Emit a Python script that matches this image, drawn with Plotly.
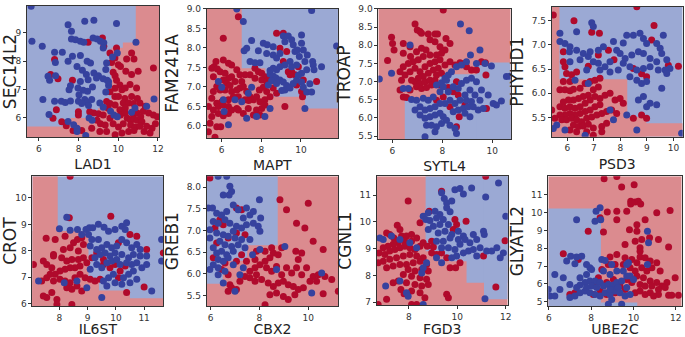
import plotly.graph_objects as go

# ---------------- data ----------------
RED_PT = "#b00a2c"
BLUE_PT = "#36429e"
RED_BG = "#db8b8f"
BLUE_BG = "#9ba9d4"

# Panel 1: LAD1 vs SEC14L2
p1_xlabel, p1_ylabel = "LAD1", "SEC14L2"
p1_xrange, p1_yrange = [5.4, 12.05], [5.33, 9.95]
p1_xticks, p1_yticks = [6, 8, 10, 12], [6, 7, 8, 9]
p1_blue_x = [5.61,5.65,6.17,6.79,7.18,7.47,7.64,7.64,7.85,8.09,8.26,8.31,8.77,9.91,10.89,8.73,8.93,9.1,9.27,9.24,7.69,8.09,8.43,8.6,7.47,6.83,6.46,6.54,6.84,7.92,8.19,8.39,8.77,9.0,8.09,8.48,8.9,7.59,7.52,7.97,8.23,8.45,8.7,9.24,9.44,9.51,9.37,8.02,6.2,6.79,7.13,7.33,7.59,8.31,8.43,8.5,8.66,9.07,9.24,7.99,8.16,6.51,7.47,7.75,7.92,8.53,8.68,9.61,9.78,9.95,9.41,9.71,9.95,9.37,9.51,10.67,10.84,11.43,11.8,8.36,7.92]
p1_blue_y = [9.94,8.71,8.53,8.32,8.32,9.29,9.06,8.79,8.76,8.71,8.67,9.41,9.45,9.33,8.67,8.82,8.79,8.71,8.65,8.47,8.18,8.2,8.0,7.94,8.0,7.96,7.47,7.33,7.49,7.82,7.68,7.53,7.59,7.49,7.29,7.35,7.41,7.14,7.0,7.06,6.98,6.94,7.09,7.38,7.33,7.15,6.92,6.82,6.65,6.59,6.59,6.55,6.6,6.65,6.56,6.44,6.65,6.53,6.38,6.59,6.51,6.12,5.88,5.76,5.64,6.0,5.92,6.24,6.11,6.04,7.94,8.15,8.29,7.71,7.28,6.2,6.35,6.41,6.67,5.38,5.52]
p1_red_x = [6.79,6.59,6.96,7.69,8.48,9.2,9.27,9.91,9.58,9.83,9.66,10.0,10.67,10.42,10.79,10.11,10.38,10.67,11.0,11.77,9.74,9.84,9.91,10.08,9.83,10.18,10.35,10.59,10.92,9.58,9.83,10.01,10.33,10.67,10.96,9.41,9.58,9.84,10.25,10.52,10.76,11.09,11.36,9.49,10.08,10.35,8.77,9.0,9.24,9.58,10.11,10.35,10.76,10.96,11.26,11.53,11.77,11.97,10.45,10.62,10.79,10.96,11.13,11.19,8.93,9.1,9.34,9.74,10.01,10.25,10.62,10.86,11.09,11.43,11.7,11.87,7.72,8.16,8.66,9.07,9.41,9.84,10.18,10.52,10.79,6.71,7.15,7.38,7.99,7.99,8.56,6.88,11.3,11.6]
p1_red_y = [8.06,7.53,7.38,7.33,8.67,8.82,8.53,8.47,8.29,8.12,7.96,7.88,8.29,8.08,8.08,7.82,7.65,7.53,7.65,7.76,7.61,7.49,7.33,7.16,7.05,7.0,7.06,7.18,7.06,6.93,6.76,6.76,6.69,6.76,6.69,6.58,6.51,6.46,6.53,6.53,6.51,6.53,6.41,6.34,6.29,6.35,6.18,6.15,6.11,5.99,6.11,6.18,6.11,6.18,6.24,6.18,6.11,6.04,5.99,5.92,5.96,5.92,6.04,5.87,5.92,5.8,5.75,5.8,5.68,5.8,5.75,5.68,5.71,5.71,5.64,5.8,5.56,5.56,5.64,5.52,5.52,5.41,5.47,5.52,5.56,5.99,5.87,5.73,6.22,6.11,6.22,6.29,5.52,5.47]
p1_base = "blue"
p1_regions = [[5.4,12.05,5.33,5.70],[7.6,12.05,5.33,6.0],[8.97,12.05,5.33,6.34],[9.65,12.05,5.33,8.48],[10.23,12.05,5.33,8.66],[10.88,12.05,5.33,9.95]]

# Panel 2: MAPT vs FAM241A
p2_xlabel, p2_ylabel = "MAPT", "FAM241A"
p2_xrange, p2_yrange = [5.24, 11.87], [5.69, 9.0]
p2_xticks, p2_yticks = [6, 8, 10], [6.0, 6.5, 7.0, 7.5, 8.0, 8.5, 9.0]
p2_blue_x = [6.76,7.09,10.54,11.8,7.51,7.26,7.13,8.1,8.3,8.6,7.85,7.43,7.68,7.93,8.27,8.6,8.77,8.94,9.11,9.36,9.19,9.53,9.61,9.7,9.82,10.12,10.03,10.03,9.92,10.2,10.32,10.59,10.62,11.04,10.66,10.29,10.03,9.78,9.53,9.45,9.19,8.94,8.77,8.6,8.44,8.44,8.6,8.74,8.52,8.35,8.77,8.94,9.11,9.28,9.19,9.03,9.45,9.61,9.78,9.87,10.03,10.12,10.29,10.54,10.45,10.2,7.51,7.34,7.01,6.67,7.26,7.76,8.18,8.44,6.34,5.83,6.08,6.0,6.12]
p2_blue_y = [9.0,8.68,8.96,8.05,8.19,7.99,7.93,8.12,8.08,8.03,7.93,7.65,7.62,7.62,7.86,7.82,7.74,7.86,8.31,8.31,8.16,8.21,8.08,7.91,7.95,7.95,8.12,8.33,7.78,7.65,7.82,7.65,7.56,7.52,7.44,7.44,7.35,7.56,7.52,7.65,7.56,7.52,7.44,7.48,7.42,7.33,7.28,7.23,7.16,7.05,7.09,7.18,7.13,7.04,6.92,6.91,6.97,7.09,7.18,7.3,7.13,6.99,6.87,6.87,7.08,6.45,6.99,6.84,6.62,6.67,6.2,6.24,6.24,6.45,6.03,7.14,6.67,6.99,6.37]
p2_red_x = [6.84,6.08,5.5,5.61,5.78,5.92,5.58,5.71,6.08,6.34,6.5,6.76,6.17,6.34,6.5,6.08,6.25,6.42,6.67,5.75,5.58,5.92,6.17,6.5,6.76,6.92,7.09,7.26,7.43,7.6,7.76,7.93,8.18,7.18,7.36,6.84,6.59,6.34,6.0,5.75,5.5,5.33,5.58,5.83,6.08,6.34,6.5,6.76,6.34,6.08,5.83,5.5,5.41,5.75,5.95,5.33,5.66,6.84,7.09,7.34,7.76,8.02,8.18,7.6,7.93,7.68,7.85,8.02,8.18,8.02,8.27,8.44,7.43,7.68,7.18,7.01,6.92,8.77,9.11,8.94,9.28,9.11,9.36,9.53,9.87,10.12,9.78,9.7,9.45,9.19,10.03,10.08,10.79,8.6,8.77,8.44,8.27,8.1,7.9]
p2_red_y = [8.8,8.25,7.48,7.52,7.46,7.39,7.26,7.65,7.69,7.61,7.56,7.44,7.35,7.22,7.26,7.18,7.09,7.04,7.14,7.01,6.88,6.92,6.92,6.88,6.92,6.97,7.01,6.88,6.75,6.67,6.75,6.62,6.67,6.67,6.65,6.75,6.75,6.67,6.62,6.58,6.71,6.5,6.41,6.5,6.54,6.5,6.41,6.45,6.32,6.26,6.32,6.24,6.07,5.98,5.98,5.85,5.71,6.41,6.32,6.45,6.41,6.45,6.54,6.28,6.28,7.48,7.39,7.35,7.26,7.18,7.14,7.22,7.31,7.22,7.31,7.14,7.31,8.38,8.38,7.99,7.91,7.65,7.39,7.39,7.52,7.18,7.05,7.31,7.31,6.5,6.88,6.75,7.14,6.97,6.84,6.75,6.88,6.99,6.92]
p2_base = "blue"
p2_regions = [[5.24,7.01,5.69,9.0],[5.24,8.2,5.69,7.48],[5.24,8.6,5.69,7.26],[5.24,10.2,5.69,6.75],[5.24,11.87,5.69,6.45]]

# Panel 3: SYTL4 vs TROAP
p3_xlabel, p3_ylabel = "SYTL4", "TROAP"
p3_xrange, p3_yrange = [5.44, 10.74], [5.42, 9.0]
p3_xticks, p3_yticks = [6, 8, 10], [5.5, 6.0, 6.5, 7.0, 7.5, 8.0, 8.5, 9.0]
p3_red_x = [8.04,6.91,7.0,7.11,7.17,7.44,7.71,7.81,5.97,6.01,6.07,5.81,6.44,6.71,6.44,6.73,6.97,7.17,7.35,7.51,7.71,7.91,8.11,8.31,8.15,7.97,7.77,7.51,7.24,7.04,6.84,6.64,6.44,6.31,6.51,6.71,6.91,7.11,7.31,7.51,7.71,7.91,7.84,7.64,7.44,7.24,7.04,6.91,6.77,7.11,7.31,7.51,7.71,6.97,7.17,7.37,7.57,7.77,7.97,8.11,8.31,8.51,8.71,8.87,8.97,9.17,9.37,9.57,9.73,9.75,6.44,6.57,6.31,6.37,6.71,7.77,8.04,8.24,8.44,8.57,8.64,8.31,8.68,8.91,8.57,9.77,7.91]
p3_red_y = [8.97,8.59,8.42,8.38,8.33,8.31,8.31,8.31,8.22,8.05,7.87,7.58,8.05,7.96,7.78,7.69,7.82,7.92,7.87,8.15,8.1,7.96,7.87,8.05,8.19,7.78,7.73,7.73,7.69,7.6,7.55,7.5,7.41,7.27,7.18,7.27,7.37,7.27,7.41,7.5,7.55,7.6,7.37,7.32,7.23,7.14,7.09,7.0,7.04,6.95,7.0,7.04,7.04,6.86,6.81,6.84,6.91,7.18,7.23,7.46,7.55,7.46,7.52,7.5,7.41,7.32,7.32,7.55,7.52,7.18,6.58,6.56,6.77,7.04,6.77,6.49,6.58,6.84,6.72,7.0,6.63,6.31,6.03,6.36,5.76,6.26,6.91]
p3_blue_x = [5.48,5.97,6.71,6.64,6.44,6.77,6.97,7.24,7.44,7.64,7.91,7.77,7.97,8.11,8.24,8.37,8.57,8.77,8.97,9.13,9.37,9.51,9.71,9.97,10.57,10.71,8.73,9.08,8.17,8.04,8.24,8.44,8.64,8.77,8.97,9.17,9.37,9.11,8.91,8.71,8.51,8.31,8.11,7.91,7.71,7.51,7.31,7.11,6.91,7.11,7.31,7.51,7.71,7.91,8.04,8.17,7.97,7.77,7.71,7.57,7.37,7.31,8.44,8.64,8.84,9.04,9.24,9.44,9.64,10.04,10.37,10.17,8.91,9.11,8.57,8.51,8.31,9.17,9.51,9.84,9.57,9.31,8.97]
p3_blue_y = [7.07,7.23,8.01,6.81,6.81,6.51,6.49,6.54,6.49,6.58,6.72,6.91,6.97,7.09,7.18,7.27,7.41,7.46,7.55,7.73,7.5,7.87,7.5,7.43,7.14,7.15,8.59,8.4,7.04,6.86,6.72,6.86,6.81,6.95,7.04,7.09,7.0,6.77,6.63,6.49,6.4,6.49,6.4,6.4,6.31,6.26,6.22,6.31,6.22,6.08,5.99,6.03,6.08,6.13,6.03,5.94,5.85,5.76,5.62,5.8,5.8,5.48,6.17,6.22,6.26,6.31,6.31,6.22,6.26,6.4,6.47,6.36,6.13,6.03,5.57,5.71,5.8,6.45,6.49,6.63,6.77,6.63,6.49]
p3_base = "red"
p3_regions = [[6.5,10.74,5.42,6.51],[7.9,10.74,5.42,7.2],[9.38,10.74,5.42,7.53]]

# Panel 4: PSD3 vs PHYHD1
p4_xlabel, p4_ylabel = "PSD3", "PHYHD1"
p4_xrange, p4_yrange = [5.41, 10.35], [5.1, 7.79]
p4_xticks, p4_yticks = [6, 7, 8, 9, 10], [5.5, 6.0, 6.5, 7.0, 7.5]
p4_red_x = [5.47,6.25,6.92,7.21,8.62,9.27,9.18,7.17,7.55,7.76,5.85,5.85,5.91,5.97,6.16,6.35,6.79,5.85,6.1,5.72,5.91,6.1,6.23,6.48,6.67,6.86,7.04,7.23,7.17,6.98,6.79,6.6,6.42,6.23,6.04,5.85,5.72,5.91,6.1,6.29,6.48,6.67,6.86,7.04,7.23,7.42,7.61,7.8,7.99,8.11,7.23,7.04,6.86,6.67,6.48,6.29,6.1,5.91,5.72,5.53,5.41,5.79,5.97,6.16,6.35,6.54,6.73,6.92,7.11,7.3,7.48,7.67,7.86,6.23,6.42,6.6,6.79,6.98,7.3,7.48,6.1,6.35,6.73,6.98,7.3,8.49,8.8,8.99,8.49,8.99,8.8,10.19,9.81]
p4_red_y = [7.62,7.5,7.26,7.24,7.79,7.4,7.1,6.79,6.89,6.69,6.86,6.65,6.55,6.41,6.38,6.44,6.56,6.24,6.24,6.07,6.07,6.05,6.08,6.1,6.2,6.24,6.27,6.31,6.13,6.07,5.96,5.93,5.89,5.86,5.86,5.82,5.72,5.69,5.72,5.69,5.72,5.79,5.86,5.93,5.89,5.96,6.0,5.86,5.89,5.79,5.76,5.72,5.65,5.62,5.58,5.55,5.58,5.55,5.55,5.48,5.65,5.45,5.45,5.48,5.45,5.41,5.48,5.51,5.55,5.58,5.62,5.65,5.58,5.34,5.31,5.32,5.36,5.28,5.31,5.38,5.24,5.2,5.2,5.13,5.2,5.48,5.55,5.48,6.51,6.34,6.4,6.56,6.58]
p4_blue_x = [5.72,5.72,5.91,6.1,6.35,6.92,6.98,6.08,6.35,6.6,6.79,6.48,6.1,6.86,7.17,7.36,7.74,7.86,8.11,8.24,8.49,8.74,8.87,8.99,9.37,9.5,9.62,9.56,9.75,9.87,9.69,9.37,9.12,8.87,8.68,8.43,8.18,7.99,7.61,7.42,7.17,6.98,7.23,7.61,7.92,8.11,8.36,8.62,8.87,9.12,9.43,9.75,8.62,8.8,8.99,8.36,8.68,8.87,9.12,9.37,9.56,8.99,8.24,7.74,7.61,6.73,6.29,6.79,5.6,5.47,5.91,6.67,8.62,10.31]
p4_blue_y = [7.24,7.07,7.03,6.96,7.27,7.46,7.38,6.86,6.89,6.82,6.76,6.69,6.65,6.86,6.89,6.96,7.07,6.89,7.04,7.2,7.2,7.24,7.13,7.03,7.03,6.93,7.2,6.82,6.69,6.51,6.48,6.65,6.72,6.82,6.86,6.79,6.72,6.82,6.65,6.55,6.62,6.65,6.48,6.44,6.48,6.62,6.55,6.48,6.51,6.55,6.48,6.41,6.27,6.2,6.24,6.34,5.86,5.93,5.79,5.76,6.1,5.72,5.55,5.45,5.65,6.48,6.27,6.2,5.34,5.27,5.24,5.13,5.24,5.17]
p4_base = "blue"
p4_regions = [[5.41,5.7,5.1,7.79],[5.41,8.26,5.1,6.29],[5.41,8.98,5.1,5.51],[5.41,10.35,5.1,5.38]]

# Panel 5: IL6ST vs CROT
p5_xlabel, p5_ylabel = "IL6ST", "CROT"
p5_xrange, p5_yrange = [7.04, 11.68], [5.91, 10.82]
p5_xticks, p5_yticks = [8, 9, 10, 11], [6, 7, 8, 9, 10]
p5_red_x = [8.38,8.35,9.82,7.53,7.85,8.2,8.5,8.64,8.79,8.85,8.14,8.38,8.67,7.79,7.43,7.55,7.73,7.79,8.08,8.26,8.44,8.67,8.85,8.97,8.73,8.55,8.38,8.2,8.02,7.85,7.67,7.55,7.37,7.79,8.02,8.2,8.38,8.55,8.73,8.91,9.09,9.26,9.44,8.26,8.44,8.62,8.79,7.73,7.55,7.91,7.91,8.44,7.43,7.08,9.56,9.79,9.97,10.15,10.33,10.09,10.38,11.0,10.5,10.74,10.09,11.09,11.68,9.15,9.32,9.56]
p5_red_y = [10.82,9.25,9.31,8.47,8.43,8.55,8.3,8.43,8.49,8.24,8.05,8.11,7.99,7.86,7.61,7.48,7.36,7.8,7.74,7.61,7.67,7.67,7.74,7.55,7.42,7.36,7.36,7.3,7.23,7.11,7.11,6.98,6.86,6.86,6.92,6.86,6.79,6.98,7.11,6.98,6.92,6.86,6.92,6.6,6.54,6.67,6.48,6.42,6.23,6.16,5.97,5.97,6.29,7.48,7.48,7.36,7.48,7.23,7.42,6.98,6.42,6.63,8.62,8.55,8.3,8.05,7.92,7.74,7.92,7.67]
p5_blue_x = [8.0,8.26,8.38,8.64,8.94,9.06,9.18,8.79,9.03,9.38,9.58,9.74,9.97,10.21,10.33,10.38,9.15,9.38,9.09,9.32,9.5,9.68,9.85,10.03,10.21,10.38,10.56,10.74,10.86,11.62,11.62,11.09,10.86,10.62,10.45,10.21,9.97,9.79,9.62,9.44,9.26,9.32,9.5,9.68,9.85,10.03,10.15,10.38,10.56,10.74,10.92,11.09,10.62,10.45,10.27,9.91,9.74,9.56,9.97,10.21,10.5,10.74,11.27,7.26,8.17,8.62,8.97,9.68,9.5,9.09]
p5_blue_y = [8.83,9.27,8.78,8.81,8.81,8.87,8.87,8.62,8.62,9.0,8.89,8.74,8.81,8.93,8.81,9.06,8.43,8.43,8.18,8.05,8.11,8.24,8.11,8.18,8.43,8.3,8.11,8.24,8.05,8.43,7.61,7.8,7.8,7.86,7.74,7.86,7.92,7.8,7.92,7.86,7.74,7.48,7.36,7.55,7.61,7.67,7.48,7.55,7.48,7.55,7.36,7.48,7.23,7.11,6.98,7.11,6.98,6.86,6.79,6.73,6.79,6.92,6.48,6.86,6.79,6.86,6.6,6.67,6.23,7.3]
p5_base = "blue"
p5_regions = [[7.04,7.94,5.91,10.82],[7.04,9.03,5.91,8.75],[7.04,9.4,5.91,6.85],[7.04,10.5,5.91,6.5],[7.04,11.68,5.91,6.2]]

# Panel 6: CBX2 vs GREB1
p6_xlabel, p6_ylabel = "CBX2", "GREB1"
p6_xrange, p6_yrange = [5.84, 11.23], [5.26, 8.25]
p6_xticks, p6_yticks = [6, 8, 10], [5.5, 6.0, 6.5, 7.0, 7.5, 8.0]
p6_blue_x = [6.31,6.66,6.79,6.86,6.76,6.52,5.9,6.08,6.25,6.45,6.66,6.93,7.13,7.34,7.47,7.61,7.75,8.0,8.05,6.11,6.31,6.59,6.79,7.06,7.27,7.47,7.75,7.95,8.02,5.97,5.97,6.25,6.52,6.72,7.0,7.27,7.61,6.38,6.59,6.86,7.13,7.41,6.11,6.25,6.45,6.66,6.93,6.31,6.52,6.72,6.93,6.11,5.97,6.31,6.59,6.31,6.52,7.2,7.34,7.72,8.02,9.04,8.7,10.14,10.55,7.0,6.93]
p6_blue_y = [8.25,8.25,8.02,7.9,7.82,7.82,7.52,7.52,7.4,7.36,7.44,7.59,7.48,7.29,7.52,7.36,7.44,7.71,7.29,7.21,7.17,7.25,7.17,7.1,7.06,7.13,7.17,7.1,6.98,7.02,6.83,6.94,6.9,6.87,6.83,6.79,6.79,6.75,6.67,6.63,6.67,6.6,6.6,6.48,6.52,6.44,6.52,6.33,6.29,6.37,6.21,6.21,6.1,6.14,6.06,5.98,5.79,5.98,6.14,6.44,6.56,6.63,6.1,5.56,6.02,5.6,6.98]
p6_red_x = [5.97,7.06,7.27,6.38,6.52,6.18,7.06,7.41,6.72,6.25,6.11,6.59,6.45,6.72,6.79,6.86,6.72,7.06,7.2,7.41,7.61,7.82,7.61,7.82,8.02,8.23,8.43,8.57,8.77,8.91,8.5,8.23,7.88,7.82,7.47,7.27,7.06,8.29,8.5,8.7,8.91,9.11,9.32,9.52,9.73,9.93,10.2,10.41,10.68,10.96,7.88,8.09,8.36,8.57,8.77,8.98,9.18,9.39,9.59,9.8,10.07,10.34,10.61,11.23,8.43,8.7,8.98,9.18,9.45,8.23,8.84,9.11,9.49,9.73,9.59,9.86,10.0,10.2,10.61,9.52]
p6_red_y = [8.21,7.52,7.48,7.25,7.13,7.06,6.94,6.9,6.83,6.71,6.37,6.25,6.1,5.98,5.75,5.68,5.6,5.64,5.83,5.94,5.91,5.83,6.06,6.14,6.21,6.29,6.37,6.48,6.44,6.6,6.6,6.52,6.52,6.33,6.29,6.44,6.29,6.14,6.06,6.17,5.98,6.14,6.02,6.14,5.98,6.14,5.94,5.98,5.94,5.87,5.98,5.87,5.79,5.71,5.79,5.83,5.75,5.71,5.64,5.68,5.83,5.83,5.54,5.6,5.52,5.56,5.48,5.41,5.52,5.29,7.71,7.48,6.52,6.48,6.33,7.06,7.63,6.75,6.56,7.17]
p6_base = "red"
p6_regions = [[5.84,8.75,6.66,8.25],[5.84,7.5,6.3,8.25],[5.84,6.5,5.77,8.25]]

# Panel 7: FGD3 vs CGNL1
p7_xlabel, p7_ylabel = "FGD3", "CGNL1"
p7_xrange, p7_yrange = [6.67, 12.08], [6.89, 11.71]
p7_xticks, p7_yticks = [8, 10, 12], [7, 8, 9, 10, 11]
p7_red_x = [11.17,7.97,9.35,8.84,8.46,9.9,9.97,9.83,10.36,7.52,7.63,7.08,7.21,7.38,7.7,7.9,8.11,8.32,8.11,7.83,7.56,7.35,7.14,6.94,6.77,7.01,7.21,7.42,7.63,7.83,8.04,8.25,8.46,8.59,8.76,9.01,8.94,9.14,9.35,9.56,8.59,8.32,8.04,7.77,7.49,7.21,6.94,6.73,7.08,7.35,7.63,7.9,8.18,8.46,8.73,7.97,8.25,8.53,8.8,7.77,8.11,8.46,8.73,7.56,7.35,7.9,8.25,8.53,8.8,7.67,8.11,8.46,7.8,9.56,9.63,7.08,6.73,8.11,8.32,8.66,9.7,9.93,10.11,11.08,11.59,11.97,8.94]
p7_red_y = [11.71,10.78,11.15,10.4,9.97,10.09,9.9,9.72,10.03,9.88,9.72,9.59,9.53,9.4,9.47,9.47,9.53,9.4,9.28,9.28,9.22,9.16,9.09,9.03,8.84,8.78,8.91,8.97,9.03,9.09,9.03,8.97,9.09,9.22,9.09,9.06,8.84,8.78,8.84,8.66,8.66,8.72,8.78,8.72,8.66,8.6,8.53,8.47,8.28,8.35,8.41,8.41,8.47,8.53,8.41,8.22,8.16,8.22,8.16,8.03,7.97,7.91,7.85,7.79,7.72,7.72,7.66,7.6,7.66,7.47,7.41,7.35,7.31,7.29,7.16,7.1,6.91,6.91,6.91,7.16,8.28,8.28,8.47,8.72,7.56,9.3,9.28]
p7_blue_x = [9.9,10.11,10.25,10.59,11.17,11.7,9.35,9.46,9.56,9.77,9.56,9.7,9.28,9.08,8.8,8.59,8.7,8.87,9.14,9.42,9.63,9.28,9.01,8.8,9.21,9.49,9.77,10.04,10.25,10.04,9.7,9.42,9.14,9.35,9.63,9.9,10.11,10.32,10.52,10.8,11.08,11.11,10.66,10.46,10.66,10.94,11.21,11.42,11.63,11.9,11.77,12.0,10.8,10.25,9.97,9.77,8.32,8.04,7.63,7.28,6.94,6.8,9.14,9.35,8.73,8.59,8.53,7.63,7.04,7.9,7.97,8.59,11.14]
p7_blue_y = [11.21,11.25,11.05,11.27,10.93,11.46,11.09,10.88,10.71,10.78,10.53,10.38,10.28,10.4,10.34,10.21,10.09,10.05,10.15,10.09,9.9,9.9,9.84,9.72,9.59,9.65,9.53,9.65,9.47,9.34,9.4,9.28,9.28,9.03,9.03,8.97,9.16,9.34,9.22,9.34,9.65,9.53,9.53,8.91,8.97,9.03,8.91,8.91,9.03,8.84,8.66,10.21,8.72,8.84,8.72,8.66,9.03,9.22,9.34,9.47,9.34,9.4,8.66,8.47,8.47,8.28,8.09,7.79,7.6,7.35,7.22,6.91,7.12]
p7_base = "red"
p7_regions = [[8.69,12.08,8.9,11.71],[9.4,12.08,8.53,11.71],[10.38,12.08,7.72,11.71],[11.1,12.08,7.1,11.71]]

# Panel 8: UBE2C vs GLYATL2
p8_xlabel, p8_ylabel = "UBE2C", "GLYATL2"
p8_xrange, p8_yrange = [5.97, 12.28], [4.76, 12.03]
p8_xticks, p8_yticks = [6, 8, 10, 12], [5, 6, 7, 8, 9, 10, 11]
p8_red_x = [8.61,9.21,9.44,10.03,9.87,9.87,10.08,10.23,10.34,8.76,9.21,9.21,9.68,10.55,11.1,11.73,9.81,10.16,10.16,10.08,10.39,10.76,11.18,8.58,7.86,8.42,9.6,10.31,10.31,10.31,11.66,8.89,9.21,9.6,9.92,10.16,10.55,10.79,11.1,6.68,7.39,8.5,8.81,9.13,9.52,9.84,10.08,10.39,10.63,10.87,11.26,10.16,10.47,10.79,11.1,11.34,11.58,11.97,9.68,9.92,10.31,10.55,10.87,11.18,11.5,11.66,11.81,12.13,10.08,10.31,10.55,10.79,10.95,11.18,9.36,9.6,9.13,8.73,8.42,8.1,7.23,6.99,8.18,8.73,9.05,8.34]
p8_red_y = [11.89,12.02,11.43,11.56,10.63,10.48,10.59,10.63,10.48,10.03,10.07,9.6,10.07,9.6,9.98,10.11,9.04,9.32,8.95,8.39,8.49,8.58,8.49,8.91,8.95,9.7,8.21,8.02,7.83,7.5,8.06,7.5,7.65,7.46,7.37,7.18,7.46,7.28,7.18,7.69,7.37,6.81,7.09,7.09,7.09,6.9,6.72,6.9,6.72,6.9,6.72,6.44,6.34,6.16,6.07,5.88,6.07,6.34,6.25,6.07,5.97,5.88,5.88,5.69,5.79,5.36,5.36,5.36,5.5,5.6,5.41,5.5,5.32,5.41,5.88,5.69,5.5,5.41,5.6,5.41,5.5,5.41,5.97,6.07,6.25,6.34]
p8_blue_x = [8.42,8.23,8.45,8.18,7.31,10.66,10.71,10.66,7.03,7.31,7.55,6.84,7.23,7.78,7.94,8.5,8.66,8.97,9.21,9.68,9.76,6.28,6.68,7.47,7.78,8.02,6.99,7.47,7.71,7.94,8.18,8.42,8.02,8.26,8.58,8.81,9.05,9.21,9.44,9.68,9.84,10.0,9.52,8.89,8.58,5.97,6.05,6.28,6.99,7.23,7.47,7.71,7.94,8.18,8.42,8.66,8.89,9.13,9.36,9.6,9.84,8.81,9.44,8.97,7.78,7.31,6.52,9.05,9.28,9.68,8.89]
p8_blue_y = [10.26,10.07,9.6,9.51,9.6,8.95,8.3,7.09,7.55,7.5,7.55,7.28,7.13,7.09,6.9,7.37,7.31,7.09,6.72,7.09,7.18,6.53,6.34,6.34,6.53,6.81,5.97,5.93,6.07,6.16,6.16,6.07,5.88,5.79,5.88,5.97,5.93,6.07,6.16,6.44,6.44,6.25,6.72,6.53,6.72,5.69,5.32,5.32,5.23,5.32,5.5,5.6,5.5,5.41,5.32,5.5,5.41,5.6,5.5,5.32,5.41,4.86,4.86,5.13,5.79,5.79,5.69,5.69,5.79,5.79,5.69]
p8_base = "red"
p8_regions = [[5.97,8.46,4.76,10.22],[8.46,10.18,4.76,4.95]]

# ---------------- layout positions (paper fractions) ----------------
domains = [
    ([0.0394, 0.2321], [0.5935, 0.9822]),
    ([0.3017, 0.4934], [0.5905, 0.9733]),
    ([0.5523, 0.7455], [0.5875, 0.9733]),
    ([0.8054, 0.9966], [0.5944, 0.9801]),
    ([0.0472, 0.2384], [0.0920, 0.4769]),
    ([0.3017, 0.4939], [0.0920, 0.4769]),
    ([0.5499, 0.7412], [0.0950, 0.4769]),
    ([0.8004, 0.9952], [0.0920, 0.4769]),
]

panels = [
    (p1_xlabel, p1_ylabel, p1_xrange, p1_yrange, p1_xticks, p1_yticks, p1_blue_x, p1_blue_y, p1_red_x, p1_red_y, p1_base, p1_regions, "%d", "%d"),
    (p2_xlabel, p2_ylabel, p2_xrange, p2_yrange, p2_xticks, p2_yticks, p2_blue_x, p2_blue_y, p2_red_x, p2_red_y, p2_base, p2_regions, "%d", "%.1f"),
    (p3_xlabel, p3_ylabel, p3_xrange, p3_yrange, p3_xticks, p3_yticks, p3_blue_x, p3_blue_y, p3_red_x, p3_red_y, p3_base, p3_regions, "%d", "%.1f"),
    (p4_xlabel, p4_ylabel, p4_xrange, p4_yrange, p4_xticks, p4_yticks, p4_blue_x, p4_blue_y, p4_red_x, p4_red_y, p4_base, p4_regions, "%d", "%.1f"),
    (p5_xlabel, p5_ylabel, p5_xrange, p5_yrange, p5_xticks, p5_yticks, p5_blue_x, p5_blue_y, p5_red_x, p5_red_y, p5_base, p5_regions, "%d", "%d"),
    (p6_xlabel, p6_ylabel, p6_xrange, p6_yrange, p6_xticks, p6_yticks, p6_blue_x, p6_blue_y, p6_red_x, p6_red_y, p6_base, p6_regions, "%d", "%.1f"),
    (p7_xlabel, p7_ylabel, p7_xrange, p7_yrange, p7_xticks, p7_yticks, p7_blue_x, p7_blue_y, p7_red_x, p7_red_y, p7_base, p7_regions, "%d", "%d"),
    (p8_xlabel, p8_ylabel, p8_xrange, p8_yrange, p8_xticks, p8_yticks, p8_blue_x, p8_blue_y, p8_red_x, p8_red_y, p8_base, p8_regions, "%d", "%d"),
]

FONT = "DejaVu Sans"
fig = go.Figure()
layout = dict(
    width=685, height=337, margin=dict(l=0, r=0, t=0, b=0, autoexpand=False),
    paper_bgcolor="white", plot_bgcolor="white", showlegend=False,
    font=dict(family=FONT, color="#262626"),
)
shapes = []
for i, (xl, yl, xr, yr, xt, yt, bx, by, rx, ry, base, regions, xf, yf) in enumerate(panels):
    n = i + 1
    xa = "x" if n == 1 else f"x{n}"
    ya = "y" if n == 1 else f"y{n}"
    base_col = BLUE_BG if base == "blue" else RED_BG
    other_col = RED_BG if base == "blue" else BLUE_BG
    shapes.append(dict(type="rect", xref=xa, yref=ya, x0=xr[0], x1=xr[1], y0=yr[0], y1=yr[1],
                       fillcolor=base_col, line=dict(width=0), layer="below"))
    for (x0, x1, y0, y1) in regions:
        shapes.append(dict(type="rect", xref=xa, yref=ya, x0=x0, x1=x1, y0=y0, y1=y1,
                           fillcolor=other_col, line=dict(width=0), layer="below"))
    fig.add_trace(go.Scatter(x=rx, y=ry, mode="markers", xaxis=xa, yaxis=ya, cliponaxis=True,
                             marker=dict(size=7, color=RED_PT, line=dict(width=0))))
    fig.add_trace(go.Scatter(x=bx, y=by, mode="markers", xaxis=xa, yaxis=ya, cliponaxis=True,
                             marker=dict(size=7, color=BLUE_PT, line=dict(width=0))))
    dx, dy = domains[i]
    axkey = "xaxis" if n == 1 else f"xaxis{n}"
    aykey = "yaxis" if n == 1 else f"yaxis{n}"
    common = dict(showgrid=False, zeroline=False, ticks="outside", ticklen=3, tickwidth=0.8,
                  tickcolor="#333", showline=True, mirror=True, linecolor="#333", linewidth=0.8,
                  automargin=False, tickfont=dict(size=9, color="#333", family=FONT))
    layout[axkey] = dict(domain=dx, range=xr, anchor=ya, tickvals=xt,
                         ticktext=[xf % v for v in xt],
                         title=dict(text=xl, font=dict(size=14, family=FONT, color="#222"), standoff=6),
                         **common)
    layout[aykey] = dict(domain=dy, range=yr, anchor=xa, tickvals=yt,
                         ticktext=[yf % v for v in yt],
                         title=dict(text=yl, font=dict(size=17, family=FONT, color="#222"), standoff=3),
                         **common)
layout["shapes"] = shapes
fig.update_layout(**layout)
fig.write_html("out.html", config={"displayModeBar": False},
               post_script="document.body.style.margin='0';document.body.style.overflow='hidden';")
